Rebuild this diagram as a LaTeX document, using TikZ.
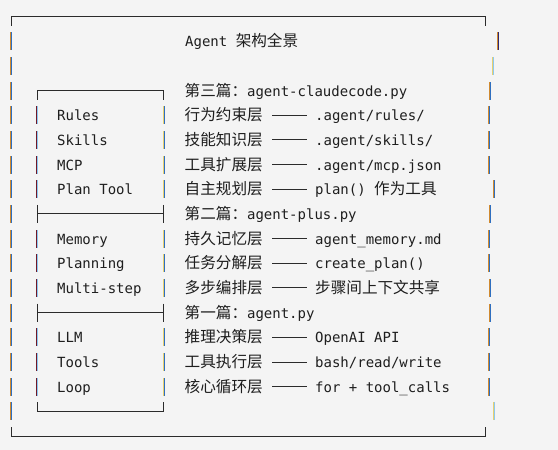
\documentclass[tikz,border=0pt]{standalone}
\usepackage{fontspec}
\newfontfamily\monof{DejaVu Sans Mono}
\newfontfamily\cjkf{Noto Sans CJK SC}
\definecolor{bgc}{HTML}{F4F4F4}
\definecolor{txtc}{HTML}{1E1E1E}
\definecolor{linec}{HTML}{2B2B2B}
\definecolor{org}{HTML}{D08A30}
\definecolor{blu}{HTML}{2F6FC0}
\definecolor{dred}{HTML}{701828}
\definecolor{lblu}{HTML}{8CC8F0}
\definecolor{ylw}{HTML}{E8D070}
\definecolor{navy}{HTML}{302870}
\newcommand\zh[1]{{\cjkf\fontsize{15.6}{18}\selectfont #1}}
\newcommand\vb[4]{%
  \fill[#3] ({#1-1},{7.5+24.68*#2}) rectangle ({#1},{25.5+24.68*#2});
  \fill[#4] ({#1},{7.5+24.68*#2}) rectangle ({#1+1},{25.5+24.68*#2});}
\tikzset{
  txt/.style={anchor=base west, inner sep=0pt, text=txtc, font=\monof\fontsize{14}{16}\selectfont},
  frame/.style={draw=linec, line width=1pt},
  dashline/.style={draw=linec, line width=1pt}
}
\begin{document}
\begin{tikzpicture}[x=1pt,y=-1pt]
\fill[bgc] (0,0) rectangle (558,450);
\useasboundingbox (0,0) rectangle (558,450);

% outer frame corners and horizontals
\draw[frame] (11,25.5) -- (11,16.5) -- (485,16.5) -- (485,25.5);
\draw[frame] (11,427) -- (11,436.06) -- (485,436.06) -- (485,427);

% inner box
\draw[frame] (37,99.5) -- (37,90.54) -- (163.5,90.54) -- (163.5,99.5);
\draw[frame] (37,204.9) -- (37,222.9);
\draw[frame] (163.5,204.9) -- (163.5,222.9);
\draw[frame] (37,213.94) -- (163.5,213.94);
\draw[frame] (37,303.6) -- (37,321.6);
\draw[frame] (163.5,303.6) -- (163.5,321.6);
\draw[frame] (37,312.66) -- (163.5,312.66);
\draw[frame] (37,402.4) -- (37,411.38) -- (163.5,411.38) -- (163.5,402.4);

% outer left bars
\foreach \k in {1,...,16} { \vb{11}{\k}{org}{blu} }
% inner bars
\foreach \k in {4,5,6,7,9,10,11,13,14,15} {
  \vb{37}{\k}{dred}{lblu}
  \vb{163.5}{\k}{ylw}{blu}
}
% outer right bars (ragged)
\vb{498}{1}{org}{navy}
\vb{493}{2}{ylw}{lblu}
\vb{490}{3}{org}{blu}
\vb{489}{4}{org}{blu}
\vb{489}{5}{org}{blu}
\vb{489}{6}{org}{blu}
\vb{494}{7}{org}{blu}
\vb{490}{8}{org}{blu}
\vb{489}{9}{org}{blu}
\vb{489}{10}{org}{blu}
\vb{490}{11}{org}{blu}
\vb{490}{12}{org}{blu}
\vb{489}{13}{org}{blu}
\vb{489}{14}{org}{blu}
\vb{489}{15}{org}{blu}
\vb{494}{16}{ylw}{lblu}

% dashes
\foreach \k in {4,5,6,7,9,10,11,13,14,15} {
  \draw[dashline] (272,{16.5+24.68*\k}) -- (307,{16.5+24.68*\k});
}

% title and section heads
\node[txt] (title) at (185,46.68) {Agent \zh{架构全景}};
\node[txt] (h3) at (184.5,96.04) {\zh{第三篇：}agent-claudecode.py};
\node[txt] (h2) at (184.5,219.44) {\zh{第二篇：}agent-plus.py};
\node[txt] (h1) at (184.5,318.16) {\zh{第一篇：}agent.py};

% left labels
\node[txt] (l4) at (57,120.72) {Rules};
\node[txt] (l5) at (57,145.40) {Skills};
\node[txt] (l6) at (57,170.08) {MCP};
\node[txt] (l7) at (57,194.76) {Plan Tool};
\node[txt] (l9) at (57,244.12) {Memory};
\node[txt] (l10) at (57,268.80) {Planning};
\node[txt] (l11) at (57,293.48) {Multi-step};
\node[txt] (l13) at (57,342.84) {LLM};
\node[txt] (l14) at (57,367.52) {Tools};
\node[txt] (l15) at (57,392.20) {Loop};

% layer names
\node[txt] (z4) at (184.5,120.72) {\zh{行为约束层}};
\node[txt] (z5) at (184.5,145.40) {\zh{技能知识层}};
\node[txt] (z6) at (184.5,170.08) {\zh{工具扩展层}};
\node[txt] (z7) at (184.5,194.76) {\zh{自主规划层}};
\node[txt] (z9) at (184.5,244.12) {\zh{持久记忆层}};
\node[txt] (z10) at (184.5,268.80) {\zh{任务分解层}};
\node[txt] (z11) at (184.5,293.48) {\zh{多步编排层}};
\node[txt] (z13) at (184.5,342.84) {\zh{推理决策层}};
\node[txt] (z14) at (184.5,367.52) {\zh{工具执行层}};
\node[txt] (z15) at (184.5,392.20) {\zh{核心循环层}};

% right items
\node[txt] (r4) at (315,120.72) {.agent/rules/};
\node[txt] (r5) at (315,145.40) {.agent/skills/};
\node[txt] (r6) at (315,170.08) {.agent/mcp.json};
\node[txt] (r7) at (315,194.76) {plan() \zh{作为工具}};
\node[txt] (r9) at (315,244.12) {agent\_memory.md};
\node[txt] (r10) at (315,268.80) {create\_plan()};
\node[txt] (r11) at (315,293.48) {\zh{步骤间上下文共享}};
\node[txt] (r13) at (315,342.84) {OpenAI API};
\node[txt] (r14) at (315,367.52) {bash/read/write};
\node[txt] (r15) at (315,392.20) {for + tool\_calls};
\end{tikzpicture}
\end{document}
